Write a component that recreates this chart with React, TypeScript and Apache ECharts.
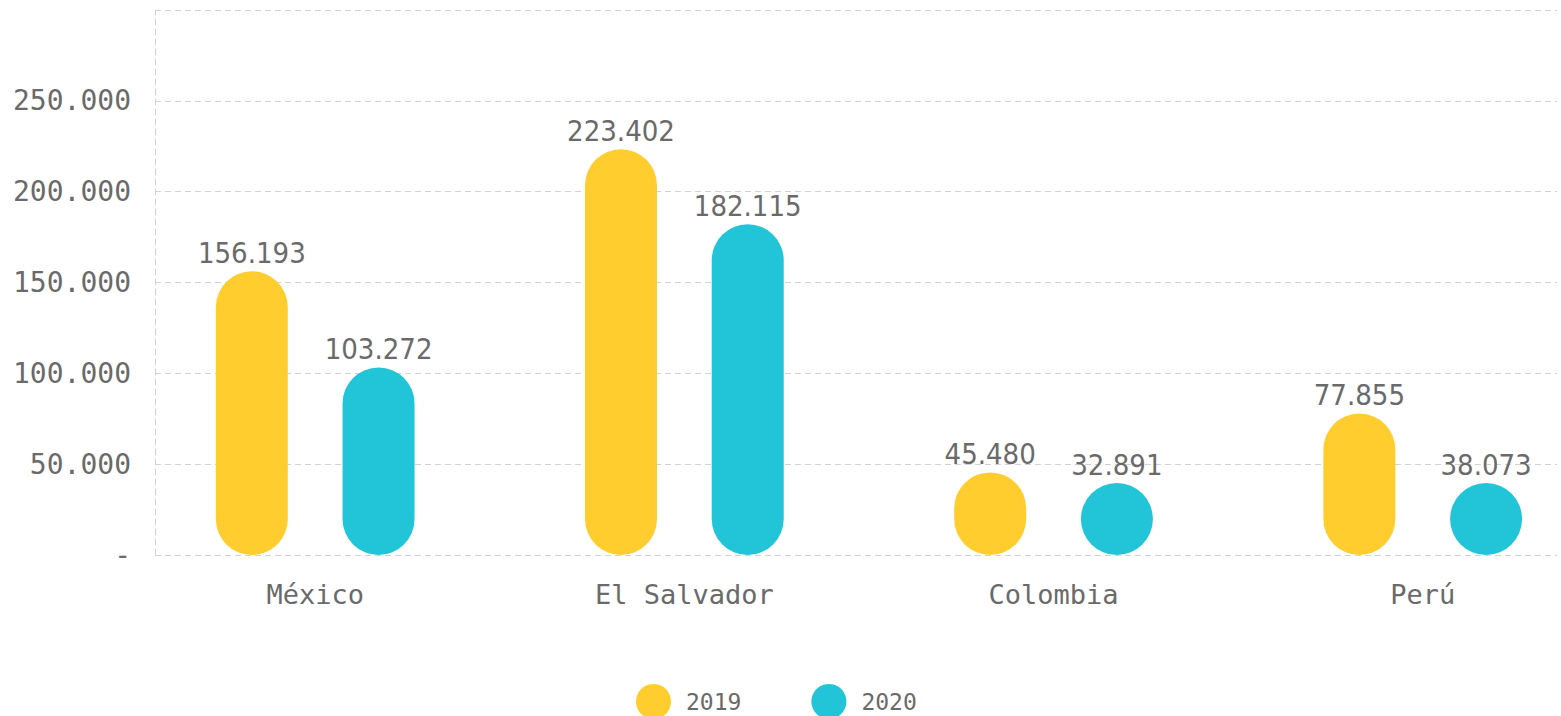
import React, { useEffect, useRef } from "react";
import * as echarts from "echarts";

const categories = ["México", "El Salvador", "Colombia", "Perú"];
const seriesNames = ["2019", "2020"];
const values2019 = [156193, 223402, 45480, 77855];
const values2020 = [103272, 182115, 32891, 38073];
const yMin = 0;
const yMax = 300000;
const yStep = 50000;

const colors = ["#FFCE2E", "#22C4D8"];
const textColor = "#6a6a6a";
const monoFont = "'DejaVu Sans Mono', monospace";
const narrowFont = "'DejaVu Sans Condensed', 'Liberation Sans Narrow', sans-serif";

const fmt = (v: number): string =>
  v === 0 ? "-" : String(Math.round(v)).replace(/\B(?=(\d{3})+(?!\d))/g, ".");

export default function App() {
  const ref = useRef<HTMLDivElement>(null);

  useEffect(() => {
    if (!ref.current) return;
    const chart = echarts.init(ref.current, undefined, { renderer: "svg" });
    const dashed = { type: [6, 4] as any, color: "#d2d2d2", width: 1 };
    const mkSeries = (name: string, data: number[], color: string) => ({
      name,
      type: "bar",
      xAxisIndex: 0,
      yAxisIndex: 0,
      data,
      barWidth: 72,
      barGap: "76%",
      barMinHeight: 72,
      itemStyle: { color, borderRadius: 36 },
      label: {
        show: true,
        position: "top",
        distance: 4,
        formatter: (p: any) => fmt(p.value),
        fontFamily: narrowFont,
        fontSize: 29,
        color: textColor,
      },
    });
    chart.setOption({
      animation: false,
      backgroundColor: "#ffffff",
      grid: [
        { left: 130.6, right: -46.3, top: 10, bottom: 161, outerBoundsMode: "none", containLabel: false },
        { left: 155, right: 4, top: 10, bottom: 161, outerBoundsMode: "none", containLabel: false },
      ],
      legend: {
        data: seriesNames,
        icon: "circle",
        itemWidth: 35,
        itemHeight: 35,
        left: 636,
        top: 684,
        padding: 0,
        itemGap: 70,
        textStyle: {
          fontFamily: monoFont,
          fontSize: 23,
          lineHeight: 24,
          color: textColor,
          padding: [0, 0, 0, 10],
        },
      },
      xAxis: [
        {
          type: "category",
          gridIndex: 0,
          data: categories,
          axisLine: { show: false },
          axisTick: { show: false },
          splitLine: { show: false },
          axisLabel: {
            margin: 26,
            fontFamily: monoFont,
            fontSize: 27,
            color: textColor,
          },
        },
        { type: "value", gridIndex: 1, show: false },
      ],
      yAxis: [
        {
          type: "value",
          gridIndex: 0,
          min: yMin,
          max: yMax,
          interval: yStep,
          show: false,
        },
        {
          type: "value",
          gridIndex: 1,
          min: yMin,
          max: yMax,
          interval: yStep,
          axisLine: { show: true, lineStyle: dashed },
          axisTick: { show: false },
          splitLine: { show: true, lineStyle: dashed },
          axisLabel: {
            showMaxLabel: false,
            margin: 24,
            formatter: (v: number) => fmt(v),
            fontFamily: monoFont,
            fontSize: 28,
            color: textColor,
          },
        },
      ],
      series: [
        mkSeries(seriesNames[0], values2019, colors[0]),
        mkSeries(seriesNames[1], values2020, colors[1]),
      ],
    });
    return () => chart.dispose();
  }, []);

  return (
    <div
      ref={ref}
      style={{ position: "fixed", left: 0, top: 0, width: 1561, height: 716, background: "#fff" }}
    />
  );
}
